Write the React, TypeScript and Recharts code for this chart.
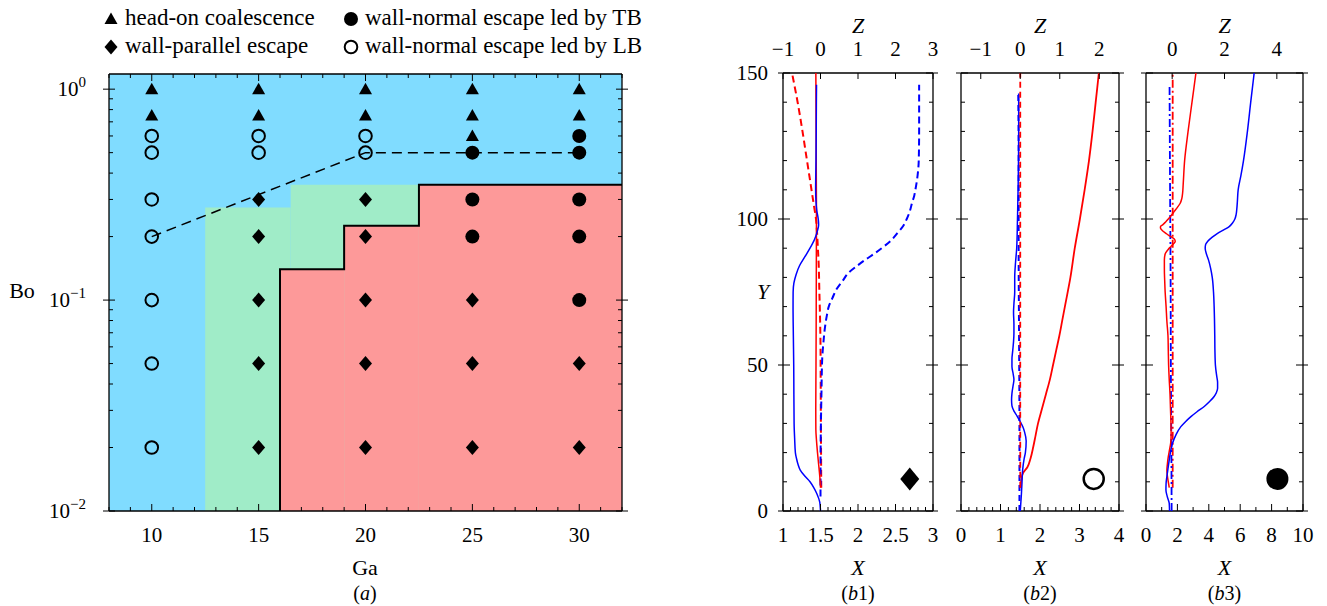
import React from 'react';
import { ScatterChart, Scatter, XAxis, YAxis, ReferenceArea } from 'recharts';

const SERIF = 'Liberation Serif, DejaVu Serif, serif';
const INK = '#000000';
const RED = '#ff0000';
const BLUE = '#0000ff';
const SKY = '#80dcff';
const MINT = '#a0ecc8';
const SALMON = '#fd9999';
const PAGE_H = 606;
const TICK_FS = 21;
const FRAME = { stroke: INK, strokeWidth: 1.3 };

function range(a: number, b: number, step: number): number[] {
  const out: number[] = [];
  const n = Math.round((b - a) / step);
  for (let i = 0; i <= n; i++) out.push(+(a + i * step).toFixed(6));
  return out;
}

// ---------- (a) regime map, Ga against Bo ----------
const gaTicks = range(8, 32, 1);
const gaMajors = [10, 15, 20, 25, 30];
const boTicks = [0.01, 0.02, 0.03, 0.04, 0.05, 0.06, 0.07, 0.08, 0.09, 0.1, 0.2, 0.3, 0.4, 0.5, 0.6, 0.7, 0.8, 0.9, 1];
const boMajors = [0.01, 0.1, 1];

const headOnCoalescence = [
  { ga: 10, bo: 1 }, { ga: 10, bo: 0.75 },
  { ga: 15, bo: 1 }, { ga: 15, bo: 0.75 },
  { ga: 20, bo: 1 }, { ga: 20, bo: 0.75 },
  { ga: 25, bo: 1 }, { ga: 25, bo: 0.75 }, { ga: 25, bo: 0.6 },
  { ga: 30, bo: 1 }, { ga: 30, bo: 0.75 },
];
const wallParallelEscape = [
  { ga: 15, bo: 0.3 }, { ga: 15, bo: 0.2 }, { ga: 15, bo: 0.1 }, { ga: 15, bo: 0.05 }, { ga: 15, bo: 0.02 },
  { ga: 20, bo: 0.3 }, { ga: 20, bo: 0.2 }, { ga: 20, bo: 0.1 }, { ga: 20, bo: 0.05 }, { ga: 20, bo: 0.02 },
  { ga: 25, bo: 0.1 }, { ga: 25, bo: 0.05 }, { ga: 25, bo: 0.02 },
  { ga: 30, bo: 0.05 }, { ga: 30, bo: 0.02 },
];
const escapeLedByTB = [
  { ga: 25, bo: 0.5 }, { ga: 25, bo: 0.3 }, { ga: 25, bo: 0.2 },
  { ga: 30, bo: 0.6 }, { ga: 30, bo: 0.5 }, { ga: 30, bo: 0.3 }, { ga: 30, bo: 0.2 }, { ga: 30, bo: 0.1 },
];
const escapeLedByLB = [
  { ga: 10, bo: 0.6 }, { ga: 10, bo: 0.5 }, { ga: 10, bo: 0.3 }, { ga: 10, bo: 0.2 },
  { ga: 10, bo: 0.1 }, { ga: 10, bo: 0.05 }, { ga: 10, bo: 0.02 },
  { ga: 15, bo: 0.6 }, { ga: 15, bo: 0.5 },
  { ga: 20, bo: 0.6 }, { ga: 20, bo: 0.5 },
];

const coalescenceField = { x1: 8, x2: 32, y1: 0.01, y2: 1.18 };
const parallelBlocks = [
  { x1: 12.5, x2: 16.5, top: 0.275 },
  { x1: 16.5, x2: 22.5, top: 0.352 },
];
const normalBlocks = [
  { x1: 16, x2: 19, top: 0.14 },
  { x1: 19, x2: 22.5, top: 0.225 },
  { x1: 22.5, x2: 32, top: 0.352 },
];
const normalBoundary = [
  { ga: 16, bo: 0.01 }, { ga: 16, bo: 0.14 }, { ga: 19, bo: 0.14 }, { ga: 19, bo: 0.225 },
  { ga: 22.5, bo: 0.225 }, { ga: 22.5, bo: 0.352 }, { ga: 32, bo: 0.352 },
];
const leaderBoundary = [
  { ga: 10, bo: 0.2 }, { ga: 20, bo: 0.5 }, { ga: 30, bo: 0.5 },
];

// ---------- (b) trajectories: [Y, value] ----------
const b1BlueX = [[0,1.5],[3,1.49],[6,1.45],[8,1.41],[10,1.36],[12,1.29],[14,1.23],[16,1.2],[18,1.18],[20,1.165],[25,1.155],[30,1.148],[40,1.145],[50,1.143],[60,1.138],[70,1.134],[75,1.135],[78,1.145],[81,1.175],[84,1.22],[87,1.29],[90,1.36],[93,1.42],[96,1.46],[98,1.475],[100,1.47],[103,1.45],[106,1.44],[110,1.435],[120,1.44],[130,1.443],[140,1.445],[146,1.447]];
const b1RedX = [[8,1.5],[12,1.49],[16,1.475],[20,1.46],[24,1.447],[28,1.438],[35,1.437],[50,1.44],[70,1.443],[90,1.445],[100,1.446],[120,1.443],[150,1.438]];
const b1RedZ = [[8,0.02],[20,0.015],[30,0.01],[45,0.005],[57,0],[65,-0.01],[75,-0.03],[85,-0.05],[90,-0.07],[95,-0.09],[100,-0.12],[105,-0.18],[110,-0.24],[115,-0.3],[120,-0.36],[130,-0.48],[140,-0.61],[150,-0.76]];
const b1BlueZ = [[5,0],[15,0],[29,0.01],[40,0.025],[52,0.045],[58,0.08],[63,0.12],[67,0.17],[70,0.22],[73,0.32],[76,0.43],[79,0.6],[81.5,0.74],[84,0.98],[86,1.19],[88,1.42],[90,1.63],[92.5,1.87],[95,2.04],[97.5,2.2],[100,2.3],[103,2.39],[105.5,2.44],[108,2.5],[110,2.53],[115,2.59],[120,2.62],[130,2.63],[140,2.63],[146,2.63]];

const b2BlueX = [[0,1.5],[6,1.53],[10,1.545],[14,1.56],[18,1.6],[20,1.63],[24,1.65],[27,1.61],[29,1.56],[31,1.48],[32.5,1.42],[34,1.35],[36,1.29],[38,1.28],[40.3,1.29],[43,1.32],[45,1.34],[47,1.32],[49.5,1.29],[52,1.29],[55,1.31],[58,1.33],[61,1.34],[64,1.34],[68,1.33],[71,1.34],[75,1.36],[80,1.36],[85,1.38],[90,1.41],[100,1.43],[110,1.445],[120,1.455],[130,1.46],[143,1.46]];
const b2RedX = [[8,1.51],[11,1.53],[13,1.57],[15,1.68],[18,1.76],[22,1.83],[26,1.89],[30,1.95],[35,2.05],[40,2.15],[45,2.25],[50,2.33],[55,2.41],[60,2.49],[65,2.56],[70,2.63],[80,2.77],[90,2.88],[100,3.01],[110,3.13],[120,3.24],[130,3.33],[140,3.41],[150,3.49]];
const b2RedZ = [[8,0],[150,0]];
const b2BlueZ = [[0,-0.02],[30,-0.02],[60,-0.03],[90,-0.04],[120,-0.04],[143,-0.05]];

const b3BlueX = [[0,1.5],[2.6,1.48],[5,1.35],[7.2,1.27],[9.5,1.28],[11.8,1.33],[14.5,1.4],[17.5,1.48],[20.5,1.57],[23.2,1.69],[26,1.9],[28.9,2.22],[30.5,2.5],[32.3,2.86],[34,3.25],[35.8,3.71],[37.5,4.05],[39.2,4.34],[40.5,4.48],[42,4.56],[44,4.56],[46,4.51],[50,4.42],[55,4.39],[60,4.38],[70,4.34],[75,4.3],[80,4.22],[83,4.12],[86,3.98],[88,3.85],[90,3.77],[91.3,3.8],[92.3,3.92],[93.7,4.2],[95.1,4.56],[96.3,4.95],[97.4,5.3],[98.7,5.52],[100,5.66],[101.5,5.74],[103.2,5.78],[106,5.82],[110,5.87],[115,6.05],[120,6.21],[130,6.46],[140,6.67],[150,6.89]];
const b3RedX = [[8,1.48],[10,1.42],[12,1.36],[14,1.33],[16,1.36],[18.6,1.42],[21,1.5],[23.2,1.57],[26,1.6],[30,1.59],[35,1.56],[40,1.53],[45,1.48],[50,1.44],[55,1.42],[60,1.4],[65,1.33],[70,1.28],[75,1.22],[79,1.19],[83,1.17],[86,1.17],[88,1.22],[89.5,1.4],[90.6,1.59],[91.5,1.75],[92.3,1.86],[93,1.82],[93.6,1.69],[94.4,1.45],[95.1,1.27],[96,1.05],[96.9,0.92],[97.5,0.93],[98,1.06],[99,1.25],[100,1.42],[101.3,1.62],[102.6,1.8],[104,2.0],[105.4,2.18],[107,2.28],[108.8,2.33],[112,2.37],[120,2.46],[130,2.68],[140,2.93],[150,3.18]];
const b3BlueZ = [[0,-0.02],[20,-0.03],[50,-0.05],[80,-0.06],[110,-0.08],[146,-0.1]];
const b3RedZ = [[8,0.02],[150,0.02]];

const yTicksB = range(0, 150, 10);
const yMajorsB = [0, 50, 100, 150];

// ---------- markers ----------
const Triangle = ({ cx, cy }: any) => (
  <path d={`M${cx},${cy - 6.5}L${cx + 6.5},${cy + 5}L${cx - 6.5},${cy + 5}Z`} fill={INK} />
);
const Diamond = ({ cx, cy, w = 6.5, h = 7.5 }: any) => (
  <path d={`M${cx},${cy - h}L${cx + w},${cy}L${cx},${cy + h}L${cx - w},${cy}Z`} fill={INK} />
);
const Dot = ({ cx, cy, r = 7 }: any) => <circle cx={cx} cy={cy} r={r} fill={INK} />;
const Ring = ({ cx, cy, r = 6.3, sw = 2 }: any) => (
  <circle cx={cx} cy={cy} r={r} fill="none" stroke={INK} strokeWidth={sw} />
);

// ---------- axis ticks drawn inward from the frame ----------
interface TickSpec {
  side: 'bottom' | 'top' | 'left' | 'right';
  majors: number[];
  minor: number;
  majorIn: number;
  majorOut?: number;
  label?: (v: number, x: number, y: number) => React.ReactNode;
}

function makeTick(spec: TickSpec) {
  return (props: any) => {
    const { x, y, payload } = props;
    const v = payload.value as number;
    const major = spec.majors.some((m) => Math.abs(m - v) < 1e-6);
    const inn = major ? spec.majorIn : spec.minor;
    const out = major ? spec.majorOut ?? 0 : 0;
    let seg;
    if (spec.side === 'bottom') seg = { x1: x, x2: x, y1: y + out, y2: y - inn };
    else if (spec.side === 'top') seg = { x1: x, x2: x, y1: y - out, y2: y + inn };
    else if (spec.side === 'left') seg = { x1: x - out, x2: x + inn, y1: y, y2: y };
    else seg = { x1: x + out, x2: x - inn, y1: y, y2: y };
    return (
      <g>
        {inn + out > 0 && <line {...seg} stroke={INK} strokeWidth={1} />}
        {major && spec.label ? spec.label(v, x, y) : null}
      </g>
    );
  };
}

const fmtNum = (v: number) => (v < 0 ? `\u2212${-v}` : `${v}`);
const textStyle = { fontFamily: SERIF };

const bottomLabel = (v: number, x: number, y: number) => (
  <text x={x} y={y + 31} textAnchor="middle" style={textStyle} fontSize={TICK_FS} fill={INK}>{fmtNum(v)}</text>
);
const topLabel = (v: number, x: number, y: number) => (
  <text x={x} y={y - 17} textAnchor="middle" style={textStyle} fontSize={TICK_FS} fill={INK}>{fmtNum(v)}</text>
);
const yLabelB = (v: number, x: number, y: number) => (
  <text x={x - 15} y={y + 7} textAnchor="end" style={textStyle} fontSize={TICK_FS} fill={INK}>{fmtNum(v)}</text>
);
const powerLabel = (v: number, x: number, y: number) => {
  const k = Math.round(Math.log10(v));
  return (
    <text x={x - 23} y={y + 7} textAnchor="end" style={textStyle} fontSize={TICK_FS} fill={INK}>
      10<tspan dy={-9} fontSize={15}>{k === 0 ? '0' : `\u2212${-k}`}</tspan>
    </text>
  );
};

type Plot = { l: number; r: number; t: number; b: number };
const marginsFor = (left: number, width: number, p: Plot) => ({
  left: p.l - left - 1,
  right: left + width - p.r - 1,
  top: p.t - 1,
  bottom: PAGE_H - p.b - 1,
});

const noPoint = () => <g />;

function RegimeMap() {
  const plot = { l: 109, r: 622, t: 74, b: 511 };
  const left = 0;
  const width = 660;
  const common = { type: 'number' as const, allowDataOverflow: true, interval: 0, tickLine: false, tickSize: 0, tickMargin: 0, axisLine: FRAME };
  return (
    <div style={{ position: 'absolute', left, top: 0 }}>
      <ScatterChart width={width} height={PAGE_H} margin={marginsFor(left, width, plot)}>
        <ReferenceArea xAxisId="ga" yAxisId="bo" x1={coalescenceField.x1} x2={coalescenceField.x2} y1={coalescenceField.y1} y2={coalescenceField.y2} fill={SKY} fillOpacity={1} stroke="none" />
        {parallelBlocks.map((blk, i) => (
          <ReferenceArea key={`g${i}`} xAxisId="ga" yAxisId="bo" x1={blk.x1} x2={blk.x2} y1={0.01} y2={blk.top} fill={MINT} fillOpacity={1} stroke="none" />
        ))}
        {normalBlocks.map((blk, i) => (
          <ReferenceArea key={`r${i}`} xAxisId="ga" yAxisId="bo" x1={blk.x1} x2={blk.x2} y1={0.01} y2={blk.top} fill={SALMON} fillOpacity={1} stroke="none" />
        ))}
        <Scatter xAxisId="ga" yAxisId="bo" data={normalBoundary} line={{ stroke: INK, strokeWidth: 2 }} shape={noPoint} isAnimationActive={false} legendType="none" />
        <Scatter xAxisId="ga" yAxisId="bo" data={leaderBoundary} line={{ stroke: INK, strokeWidth: 1.5, strokeDasharray: '10 6' }} shape={noPoint} isAnimationActive={false} legendType="none" />
        <Scatter name="head-on coalescence" xAxisId="ga" yAxisId="bo" data={headOnCoalescence} shape={(p: any) => <Triangle cx={p.cx} cy={p.cy} />} isAnimationActive={false} />
        <Scatter name="wall-parallel escape" xAxisId="ga" yAxisId="bo" data={wallParallelEscape} shape={(p: any) => <Diamond cx={p.cx} cy={p.cy} />} isAnimationActive={false} />
        <Scatter name="wall-normal escape led by TB" xAxisId="ga" yAxisId="bo" data={escapeLedByTB} shape={(p: any) => <Dot cx={p.cx} cy={p.cy} />} isAnimationActive={false} />
        <Scatter name="wall-normal escape led by LB" xAxisId="ga" yAxisId="bo" data={escapeLedByLB} shape={(p: any) => <Ring cx={p.cx} cy={p.cy} />} isAnimationActive={false} />
        <XAxis {...common} xAxisId="ga" dataKey="ga" domain={[8, 32]} height={1} ticks={gaTicks}
          tick={makeTick({ side: 'bottom', majors: gaMajors, minor: 4, majorIn: 7, label: bottomLabel })} />
        <XAxis {...common} xAxisId="gaTop" orientation="top" dataKey="ga" domain={[8, 32]} height={1} ticks={gaTicks}
          tick={makeTick({ side: 'top', majors: gaMajors, minor: 4, majorIn: 7 })} />
        <YAxis {...common} yAxisId="bo" dataKey="bo" scale="log" domain={[0.01, 1.18]} width={1} ticks={boTicks}
          tick={makeTick({ side: 'left', majors: boMajors, minor: 4, majorIn: 6, majorOut: 6, label: powerLabel })} />
        <YAxis {...common} yAxisId="boRight" orientation="right" dataKey="bo" scale="log" domain={[0.01, 1.18]} width={1} ticks={boTicks}
          tick={makeTick({ side: 'right', majors: boMajors, minor: 4, majorIn: 6, majorOut: 6 })} />
      </ScatterChart>
    </div>
  );
}

interface Trace { pts: number[][]; on: 'X' | 'Z'; color: string; dash?: string; w?: number }

interface PanelProps {
  left: number;
  width: number;
  plot: Plot;
  xDomain: [number, number];
  xTicks: number[];
  xMajors: number[];
  zDomain: [number, number];
  zTicks: number[];
  traces: Trace[];
  marker: { x: number; y: number; shape: (p: any) => React.ReactElement };
  yLabels: boolean;
}

function ProfilePanel(p: PanelProps) {
  const common = { type: 'number' as const, allowDataOverflow: true, interval: 0, tickLine: false, tickSize: 0, tickMargin: 0, axisLine: FRAME };
  return (
    <div style={{ position: 'absolute', left: p.left, top: 0 }}>
      <ScatterChart width={p.width} height={PAGE_H} margin={marginsFor(p.left, p.width, p.plot)}>
        {p.traces.map((t, i) => (
          <Scatter key={i} xAxisId={t.on} yAxisId="Y" data={t.pts.map(([y, v]) => ({ x: v, y }))}
            line={{ stroke: t.color, strokeWidth: t.w ?? 1.5, strokeDasharray: t.dash }}
            lineJointType="monotoneY" shape={noPoint} isAnimationActive={false} legendType="none" />
        ))}
        <Scatter xAxisId="X" yAxisId="Y" data={[{ x: p.marker.x, y: p.marker.y }]} shape={p.marker.shape} isAnimationActive={false} legendType="none" />
        <XAxis {...common} xAxisId="X" dataKey="x" domain={p.xDomain} height={1} ticks={p.xTicks}
          tick={makeTick({ side: 'bottom', majors: p.xMajors, minor: 4, majorIn: 7, label: bottomLabel })} />
        <XAxis {...common} xAxisId="Z" orientation="top" dataKey="x" domain={p.zDomain} height={1} ticks={p.zTicks}
          tick={makeTick({ side: 'top', majors: p.zTicks, minor: 4, majorIn: 6, label: topLabel })} />
        <YAxis {...common} yAxisId="Y" dataKey="y" domain={[0, 150]} width={1} ticks={yTicksB}
          tick={makeTick({ side: 'left', majors: yMajorsB, minor: 4, majorIn: 7, majorOut: 5, label: p.yLabels ? yLabelB : undefined })} />
        <YAxis {...common} yAxisId="Y2" orientation="right" dataKey="y" domain={[0, 150]} width={1} ticks={yTicksB}
          tick={makeTick({ side: 'right', majors: yMajorsB, minor: 4, majorIn: 7, majorOut: 5 })} />
      </ScatterChart>
    </div>
  );
}

const PLOT_B1 = { l: 783, r: 933, t: 73, b: 511 };
const PLOT_B2 = { l: 961, r: 1119, t: 73, b: 511 };
const PLOT_B3 = { l: 1146, r: 1303, t: 73, b: 511 };

const legendItems = [
  { label: 'head-on coalescence', x: 111, y: 19, mark: Triangle },
  { label: 'wall-parallel escape', x: 111, y: 47, mark: Diamond },
  { label: 'wall-normal escape led by TB', x: 351, y: 19, mark: Dot },
  { label: 'wall-normal escape led by LB', x: 351, y: 47, mark: Ring },
];

function Annotations() {
  const txt = { style: textStyle, fill: INK } as const;
  const mid = (pl: Plot) => (pl.l + pl.r) / 2;
  const panels = [
    { pl: PLOT_B1, tag: '1' },
    { pl: PLOT_B2, tag: '2' },
    { pl: PLOT_B3, tag: '3' },
  ];
  return (
    <svg width={1327} height={PAGE_H} style={{ position: 'absolute', left: 0, top: 0, pointerEvents: 'none' }}>
      {legendItems.map((it) => {
        const Mark = it.mark;
        return (
          <g key={it.label}>
            <Mark cx={it.x} cy={it.y} />
            <text x={it.x + 14} y={it.y + 6} fontSize={23} {...txt}>{it.label}</text>
          </g>
        );
      })}
      <text x={22} y={298} textAnchor="middle" fontSize={22} {...txt}>Bo</text>
      <text x={365} y={575} textAnchor="middle" fontSize={22} {...txt}>Ga</text>
      <text x={365} y={600} textAnchor="middle" fontSize={20} {...txt}>(<tspan fontStyle="italic">a</tspan>)</text>
      <text x={763} y={299} textAnchor="middle" fontSize={22} fontStyle="italic" {...txt}>Y</text>
      {panels.map(({ pl, tag }) => (
        <g key={tag}>
          <text x={mid(pl)} y={33} textAnchor="middle" fontSize={22} fontStyle="italic" {...txt}>Z</text>
          <text x={mid(pl)} y={575} textAnchor="middle" fontSize={22} fontStyle="italic" {...txt}>X</text>
          <text x={mid(pl)} y={600} textAnchor="middle" fontSize={20} {...txt}>(<tspan fontStyle="italic">b</tspan>{tag})</text>
        </g>
      ))}
    </svg>
  );
}

export default function App() {
  return (
    <div style={{ position: 'absolute', left: 0, top: 0, width: 1327, height: PAGE_H, background: '#ffffff', fontFamily: SERIF }}>
      <RegimeMap />
      <ProfilePanel
        left={720} width={225} plot={PLOT_B1}
        xDomain={[1, 3]} xTicks={range(1, 3, 0.1)} xMajors={[1, 1.5, 2, 2.5, 3]}
        zDomain={[-1, 3]} zTicks={[-1, 0, 1, 2, 3]}
        traces={[
          { pts: b1RedZ, on: 'Z', color: RED, dash: '7 4', w: 2 },
          { pts: b1BlueZ, on: 'Z', color: BLUE, dash: '7 4', w: 2 },
          { pts: b1RedX, on: 'X', color: RED },
          { pts: b1BlueX, on: 'X', color: BLUE },
        ]}
        marker={{ x: 2.69, y: 11, shape: (q: any) => <Diamond cx={q.cx} cy={q.cy} w={9.5} h={11.5} /> }}
        yLabels
      />
      <ProfilePanel
        left={945} width={190} plot={PLOT_B2}
        xDomain={[0, 4]} xTicks={range(0, 4, 0.2)} xMajors={[0, 1, 2, 3, 4]}
        zDomain={[-1.5, 2.5]} zTicks={[-1, 0, 1, 2]}
        traces={[
          { pts: b2RedX, on: 'X', color: RED, w: 1.8 },
          { pts: b2BlueX, on: 'X', color: BLUE },
          { pts: b2BlueZ, on: 'Z', color: BLUE, dash: '6 4', w: 2 },
          { pts: b2RedZ, on: 'Z', color: RED, dash: '6 4', w: 1.8 },
        ]}
        marker={{ x: 3.36, y: 11, shape: (q: any) => <Ring cx={q.cx} cy={q.cy} r={10} sw={2.5} /> }}
        yLabels={false}
      />
      <ProfilePanel
        left={1135} width={192} plot={PLOT_B3}
        xDomain={[0, 10]} xTicks={range(0, 10, 1)} xMajors={[0, 2, 4, 6, 8, 10]}
        zDomain={[-1, 5]} zTicks={[0, 2, 4]}
        traces={[
          { pts: b3RedZ, on: 'Z', color: RED, dash: '8 3 2 3', w: 1.8 },
          { pts: b3BlueZ, on: 'Z', color: BLUE, dash: '8 3 2 3', w: 1.8 },
          { pts: b3RedX, on: 'X', color: RED },
          { pts: b3BlueX, on: 'X', color: BLUE },
        ]}
        marker={{ x: 8.37, y: 11, shape: (q: any) => <Dot cx={q.cx} cy={q.cy} r={11} /> }}
        yLabels={false}
      />
      <Annotations />
    </div>
  );
}
